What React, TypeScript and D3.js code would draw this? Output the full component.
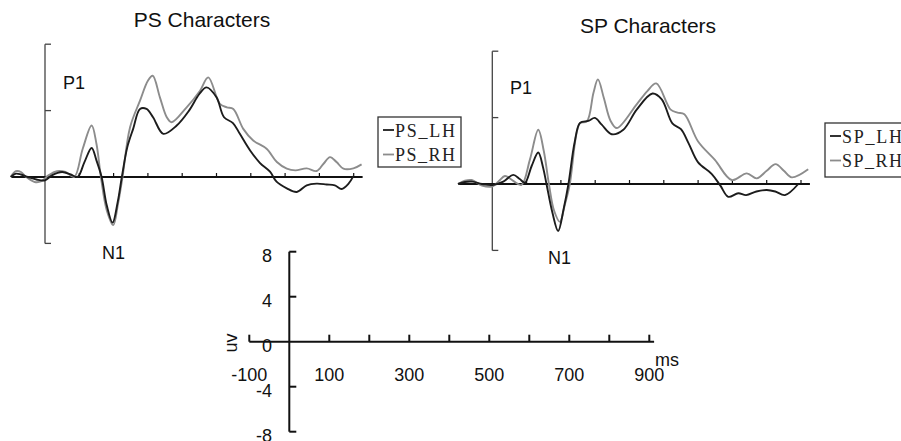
import React from "react";
import * as d3 from "d3";

// ---- Data (ms, µV) ----
const psLH: [number, number][] = [
  [-100, 0], [-85, 0.2], [-70, 0.15], [-50, 0], [-25, -0.15], [0, -0.2], [20, 0.1], [50, 0.3], [75, 0.15], [95, 0],
  [115, 0.9], [136, 1.75], [150, 1.0], [165, 0], [180, -1.7], [197, -2.75], [212, -1.5], [224, 0], [240, 1.8],
  [257, 2.9], [277, 4.1], [296, 4.1], [315, 3.6], [345, 2.6], [384, 3.1], [420, 4.0], [450, 5.0], [471, 5.4],
  [500, 4.8], [522, 3.6], [548, 3.25], [568, 2.6], [598, 1.6], [627, 0.84], [656, 0.32], [675, -0.28], [705, -0.68],
  [734, -0.9], [763, -0.5], [792, -0.4], [821, -0.45], [845, -0.5], [865, -0.72], [885, -0.4], [899, 0.05],
];
const psRH: [number, number][] = [
  [-100, 0], [-85, 0.35], [-70, 0.3], [-55, 0], [-30, -0.3], [-10, -0.25], [10, 0.1], [35, 0.35], [60, 0.3], [85, 0],
  [110, 1.7], [136, 3.1], [150, 2.0], [163, 0], [180, -2.0], [199, -2.9], [213, -1.6], [226, 0], [248, 3.0],
  [277, 4.6], [300, 5.8], [314, 6.1], [335, 4.8], [355, 3.6], [369, 3.3], [413, 4.2], [452, 5.2], [476, 6.0],
  [510, 4.4], [530, 4.2], [549, 4.1], [578, 2.9], [607, 2.2], [646, 1.7], [676, 0.9], [705, 0.5], [730, 0.4],
  [763, 0.52], [792, 0.36], [812, 0.8], [831, 1.2], [850, 0.9], [870, 0.5], [899, 0.52], [923, 0.76],
];
const spLH: [number, number][] = [
  [-100, 0], [-80, 0.12], [-58, 0.14], [-30, 0], [0, -0.06], [32, 0.14], [61, 0.55], [80, 0.3], [95, 0.08],
  [115, 1.1], [134, 1.9], [148, 1.0], [158, 0], [175, -1.7], [192, -2.83], [208, -1.5], [222, 0], [240, 2.5],
  [256, 3.68], [280, 3.8], [299, 3.98], [319, 3.58], [348, 3.0], [382, 3.27], [421, 4.48], [467, 5.45], [494, 5.1],
  [525, 3.65], [550, 3.3], [572, 2.46], [600, 1.3], [640, 0.6], [665, -0.1], [688, -0.77], [717, -0.56],
  [740, -0.67], [770, -0.45], [800, -0.36], [825, -0.45], [853, -0.67], [892, 0],
];
const spRH: [number, number][] = [
  [-100, 0], [-80, 0.2], [-60, 0.24], [-30, -0.1], [0, -0.15], [20, 0.2], [37, 0.48], [60, 0.2], [85, -0.06],
  [110, 1.5], [134, 3.27], [150, 2.0], [165, 0], [180, -1.6], [197, -2.28], [212, -1.2], [226, 0], [245, 3.0],
  [256, 3.68], [276, 3.78], [295, 5.5], [308, 6.3], [325, 5.2], [345, 3.8], [363, 3.37], [421, 4.8], [452, 5.6],
  [478, 6.06], [520, 4.48], [540, 4.3], [560, 4.2], [600, 2.56], [649, 1.45], [698, 0.24], [742, 0.64],
  [771, 0.34], [800, 0.8], [826, 1.2], [850, 0.8], [873, 0.4], [921, 0.89],
];

const panelXTicks = [100, 200, 300, 400, 500, 600, 700, 800, 900];
const panelYTicks = [8, 4, -4];
const scaleYTicks = [8, 4, 0, -4, -8];
const scaleXTicks = [-100, 100, 200, 300, 400, 500, 600, 700, 800, 900];
const scaleXLabels = [-100, 100, 300, 500, 700, 900];

const BLACK = "#1c1c1c";
const GRAY = "#8c8c8c";

type PanelProps = {
  ox: number;
  oy: number;
  title: string;
  titleX: number;
  titleY: number;
  lh: [number, number][];
  rh: [number, number][];
  p1: [number, number];
  n1: [number, number];
  legend: { x: number; y: number; w: number; h: number; names: [string, string] };
};

function Panel({ ox, oy, title, titleX, titleY, lh, rh, p1, n1, legend }: PanelProps) {
  const pxPerMs = 0.343;
  const pxPerUv = 16.6;
  const x = d3.scaleLinear().domain([0, 100]).range([ox, ox + 100 * pxPerMs]);
  const y = d3.scaleLinear().domain([0, 4]).range([oy, oy - 4 * pxPerUv]);
  const line = d3
    .line<[number, number]>()
    .x((d) => x(d[0]))
    .y((d) => y(d[1]))
    .curve(d3.curveCatmullRom.alpha(0.5));
  const cap = 6;
  return (
    <g>
      <text x={titleX} y={titleY} textAnchor="middle" fontFamily="Liberation Sans, Arial, sans-serif" fontSize={21} fill="#111">
        {title}
      </text>
      {/* y axis bracket */}
      <line x1={x(0)} x2={x(0)} y1={y(8)} y2={y(-4)} stroke="#444" strokeWidth={1.3} />
      {panelYTicks.map((t) => (
        <line key={t} x1={x(0)} x2={x(0) + cap} y1={y(t)} y2={y(t)} stroke="#444" strokeWidth={1.3} />
      ))}
      {/* zero line */}
      <line x1={x(-97)} x2={x(926)} y1={y(0)} y2={y(0)} stroke="#111" strokeWidth={1.8} />
      {panelXTicks.map((t) => (
        <line key={t} x1={x(t)} x2={x(t)} y1={y(0)} y2={y(0) - 4} stroke="#111" strokeWidth={1.2} />
      ))}
      <path d={line(rh) || ""} fill="none" stroke={GRAY} strokeWidth={1.9} />
      <path d={line(lh) || ""} fill="none" stroke={BLACK} strokeWidth={1.9} />
      <text x={p1[0]} y={p1[1]} fontFamily="Liberation Sans, Arial, sans-serif" fontSize={18} fill="#111">P1</text>
      <text x={n1[0]} y={n1[1]} fontFamily="Liberation Sans, Arial, sans-serif" fontSize={18} fill="#111">N1</text>
      {/* legend */}
      <rect x={legend.x} y={legend.y} width={legend.w} height={legend.h} fill="#fff" stroke="#333" strokeWidth={1.3} />
      {legend.names.map((n, i) => {
        const cy = legend.y + 13 + i * 24.5;
        return (
          <g key={n}>
            <line x1={legend.x + 5} x2={legend.x + 16} y1={cy} y2={cy} stroke={i === 0 ? BLACK : GRAY} strokeWidth={1.8} />
            <text
              x={legend.x + 17}
              y={cy + 6.5}
              fontFamily="Liberation Serif, DejaVu Serif, serif"
              fontSize={18}
              textLength={60}
              lengthAdjust="spacing"
              fill="#222"
            >
              {n}
            </text>
          </g>
        );
      })}
    </g>
  );
}

function ScaleBar() {
  const x = d3.scaleLinear().domain([0, 100]).range([289.3, 329.3]);
  const y = d3.scaleLinear().domain([0, 4]).range([341.7, 296.7]);
  const font = "Liberation Sans, Arial, sans-serif";
  return (
    <g>
      <line x1={x(0)} x2={x(0)} y1={y(8)} y2={y(-8)} stroke="#111" strokeWidth={2} />
      {[8, 4, -4, -8].map((t) => (
        <line key={t} x1={x(0)} x2={x(0) + 7} y1={y(t)} y2={y(t)} stroke="#111" strokeWidth={2} />
      ))}
      <line x1={x(-100)} x2={x(912)} y1={y(0)} y2={y(0)} stroke="#111" strokeWidth={2} />
      {scaleXTicks.map((t) => (
        <line key={t} x1={x(t)} x2={x(t)} y1={y(0)} y2={y(0) - 7} stroke="#111" strokeWidth={2} />
      ))}
      {scaleYTicks.map((t) => (
        <text key={t} x={272} y={y(t) + 10} textAnchor="end" fontFamily={font} fontSize={18} fill="#111">
          {t}
        </text>
      ))}
      {scaleXLabels.map((t) => (
        <text key={t} x={x(t)} y={381} textAnchor="middle" fontFamily={font} fontSize={18} fill="#111">
          {t}
        </text>
      ))}
      <text x={655} y={366} fontFamily={font} fontSize={18} fill="#111">ms</text>
      <text
        transform={`translate(237,343) rotate(-90)`}
        textAnchor="middle"
        fontFamily={font}
        fontSize={18}
        fill="#111"
      >
        uv
      </text>
    </g>
  );
}

export default function App() {
  return (
    <svg
      width={901}
      height={441}
      style={{ position: "absolute", left: 0, top: 0, background: "#fff" }}
    >
      <rect width={901} height={441} fill="#fff" />
      <Panel
        ox={45}
        oy={177}
        title="PS Characters"
        titleX={202}
        titleY={27}
        lh={psLH}
        rh={psRH}
        p1={[63, 89]}
        n1={[102, 259]}
        legend={{ x: 378, y: 117, w: 83, h: 50, names: ["PS_LH", "PS_RH"] }}
      />
      <Panel
        ox={492.3}
        oy={184}
        title="SP Characters"
        titleX={648}
        titleY={33}
        lh={spLH}
        rh={spRH}
        p1={[510, 94]}
        n1={[548, 264]}
        legend={{ x: 825, y: 123, w: 90, h: 54, names: ["SP_LH", "SP_RH"] }}
      />
      <ScaleBar />
    </svg>
  );
}
